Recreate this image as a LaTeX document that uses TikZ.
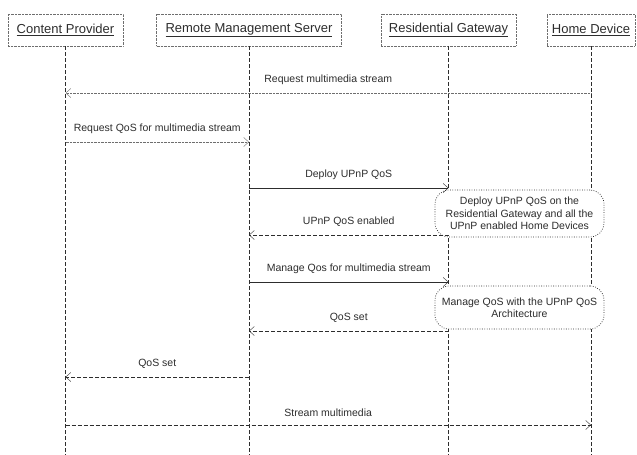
\documentclass[tikz,border=0pt]{standalone}
\usepackage{fontspec}
\setmainfont{Liberation Sans}
\usetikzlibrary{arrows.meta,positioning,calc}
\definecolor{inkgray}{RGB}{45,45,45}
\definecolor{dotgray}{RGB}{110,110,110}

\tikzset{
  >={Straight Barb[length=5pt,width=9pt]},
  actor/.style={draw=dotgray, densely dotted, minimum height=32pt, inner sep=0pt,
    font=\fontsize{13}{15}\selectfont, text=inkgray},
  lifeline/.style={draw=inkgray, dash pattern=on 4pt off 2pt},
  call/.style={->, draw=inkgray},
  reply/.style={->, draw=inkgray, dash pattern=on 4pt off 2pt},
  ask/.style={->, draw=dotgray, densely dotted},
  msg/.style={above=5pt, font=\fontsize{10.5}{12}\selectfont, text=inkgray},
  action/.style={draw=inkgray, line width=0.7pt, dash pattern=on 0.8pt off 1.6pt,
    rounded corners=14pt, fill=white, minimum width=169pt, align=center, inner sep=0pt,
    font=\fontsize{10.5}{12.5}\selectfont, text=inkgray}
}

\begin{document}
\begin{tikzpicture}[x=1pt,y=-1pt]
  \useasboundingbox (0,0) rectangle (637,455);
  % participants
  \node[actor, minimum width=115pt] (cp)  at (65.5,30)  {\underline{Content Provider}};
  \node[actor, minimum width=185pt] (rms) at (249,30)   {\underline{Remote Management Server}};
  \node[actor, minimum width=135pt] (rg)  at (448.5,30) {\underline{Residential Gateway}};
  \node[actor, minimum width=88pt]  (hd)  at (591,30)   {\underline{Home Device}};
  \coordinate (bottom) at (0,455);
  \foreach \p in {cp,rms,rg,hd}
    \draw[lifeline] (\p.south) -- (\p.south |- bottom);
  % local actions
  \node[action, minimum height=47pt] (deploy) at (519.5,213.5)
    {Deploy UPnP QoS on the\\Residential Gateway and all the\\UPnP enabled Home Devices};
  \node[action, minimum height=43pt] (manage) at (519.5,307.5)
    {Manage QoS with the UPnP QoS\\Architecture};
  % message rows
  \foreach \r/\y in {1/93,2/142,3/188,4/235,5/282,6/331,7/377,8/425}
    \coordinate (row\r) at (0,\y);
  \draw[ask] (hd |- row1) -- (cp |- row1) node[msg, midway] {Request multimedia stream};
  \draw[ask] (cp |- row2) -- (rms |- row2) node[msg, midway] {Request QoS for multimedia stream};
  \draw[call] (rms |- row3) -- (rg |- row3) node[msg, midway] {Deploy UPnP QoS};
  \draw[reply] (rg |- row4) -- (rms |- row4) node[msg, midway] {UPnP QoS enabled};
  \draw[call] (rms |- row5) -- (rg |- row5) node[msg, midway] {Manage Qos for multimedia stream};
  \draw[reply] (rg |- row6) -- (rms |- row6) node[msg, midway] {QoS set};
  \draw[reply] (rms |- row7) -- (cp |- row7) node[msg, midway] {QoS set};
  \draw[reply] (cp |- row8) -- (hd |- row8) node[msg, midway] {Stream multimedia};
\end{tikzpicture}
\end{document}
